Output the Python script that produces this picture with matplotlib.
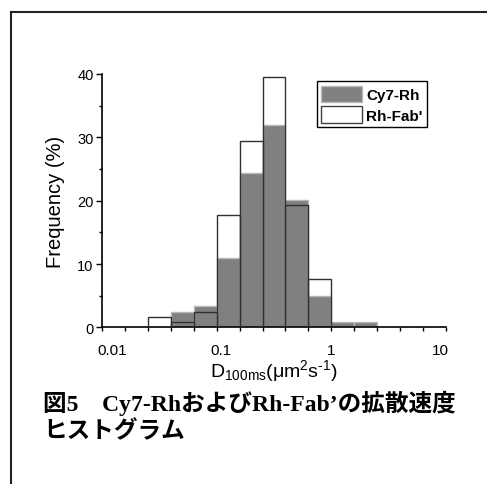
import matplotlib
matplotlib.use('Agg')
import matplotlib.pyplot as plt
import numpy as np
from matplotlib.patches import Patch
from matplotlib.lines import Line2D

# histogram bins (um^2/s, log spaced) and frequencies (%)
bin_edges = [0.0213, 0.0345, 0.0559, 0.0906, 0.147, 0.238, 0.386, 0.625, 1.01, 1.64, 2.66]
cy7_rh = [0.0, 2.5, 3.4, 10.9, 24.4, 32.0, 20.1, 5.0, 0.9, 0.8]
rh_fab = [1.6, 0.8, 2.5, 17.7, 29.4, 39.5, 19.4, 7.6, 0.0, 0.0]
series_labels = ['Cy7-Rh', "Rh-Fab'"]
x_major = [0.01, 0.1, 1, 10]
x_major_labels = ['0.01', '0.1', '1', '10']
y_major = [0, 10, 20, 30, 40]

plt.rcParams['font.family'] = ['Liberation Sans', 'DejaVu Sans']
plt.rcParams['mathtext.fontset'] = 'custom'
plt.rcParams['mathtext.rm'] = 'Liberation Sans'
plt.rcParams['mathtext.it'] = 'Liberation Sans'
plt.rcParams['mathtext.bf'] = 'Liberation Sans:bold'

fig = plt.figure(figsize=(4.87, 4.85), dpi=100)
ax = fig.add_axes([0.2095, 0.3227, 0.7063, 0.5227])

edges = np.array(bin_edges)
widths = edges[1:] - edges[:-1]

ax.bar(edges[:-1], cy7_rh, width=widths, align='edge', color='#808080',
       edgecolor='#b8b8b8', linewidth=1.0, zorder=2)
ax.bar(edges[:-1], rh_fab, width=widths, align='edge', facecolor='none',
       edgecolor='#303030', linewidth=1.0, zorder=3)

ax.set_xscale('log')
lo, hi = -2.092, 1.055
ax.set_xlim(10 ** lo, 10 ** hi)
ax.set_ylim(0, 40)

ax.set_xticks(x_major)
ax.set_xticklabels(x_major_labels)
ax.set_xticks(10 ** np.linspace(lo, hi, 16), minor=True)
ax.xaxis.set_minor_formatter(matplotlib.ticker.NullFormatter())
ax.tick_params(axis='x', which='major', length=0, pad=11, labelsize=11)
ax.tick_params(axis='x', which='minor', direction='out', length=3, width=1)

ax.set_yticks(y_major)
ax.set_yticks(np.arange(5, 40, 10), minor=True)
ax.tick_params(axis='y', which='major', direction='out', length=4, width=1,
               pad=2, labelsize=10.5)
ax.tick_params(axis='y', which='minor', direction='out', length=2.5, width=1)

for side in ['top', 'right']:
    ax.spines[side].set_visible(False)
for side in ['left', 'bottom']:
    ax.spines[side].set_linewidth(1.2)

ax.set_xlabel('D$_{\\mathrm{100ms}}$(μm$^{2}$s$^{\u20101}$)', fontsize=14)
ax.xaxis.set_label_coords(0.5, -0.118)
ax.xaxis.label.set_va('top')
ax.set_ylabel('Frequency (%)', fontsize=14.5)
ax.yaxis.set_label_coords(-0.108, 0.5)

handles = [Patch(facecolor='#808080', edgecolor='#b8b8b8', linewidth=1),
           Patch(facecolor='white', edgecolor='#404040', linewidth=1)]
leg = ax.legend(handles, series_labels, loc='upper left',
                bbox_to_anchor=(0.624, 0.972), borderaxespad=0,
                fancybox=False, framealpha=1, edgecolor='black',
                prop={'weight': 'bold', 'size': 11},
                handlelength=2.7, handleheight=1.25, handletextpad=0.25,
                labelspacing=0.3, borderpad=0.3)
leg.get_frame().set_linewidth(1.0)

cap_font = ['Liberation Serif', 'Noto Sans CJK JP']
fig.text(0.088, 0.1526, '図5\u3000Cy7-RhおよびRh-Fab’の拡散速度', family=cap_font,
         fontsize=17, fontweight='bold', va='baseline', ha='left')
fig.text(0.088, 0.097, 'ヒストグラム', family=cap_font,
         fontsize=17, fontweight='bold', va='baseline', ha='left')

# page frame lines
fig.add_artist(Line2D([0.0226, 0.0226], [0.0, 0.9732], color='#222222',
                      linewidth=1.5, transform=fig.transFigure))
fig.add_artist(Line2D([0.0226, 1.0], [0.9732, 0.9732], color='#222222',
                      linewidth=1.5, transform=fig.transFigure))

fig.savefig('out.png', dpi=100)
